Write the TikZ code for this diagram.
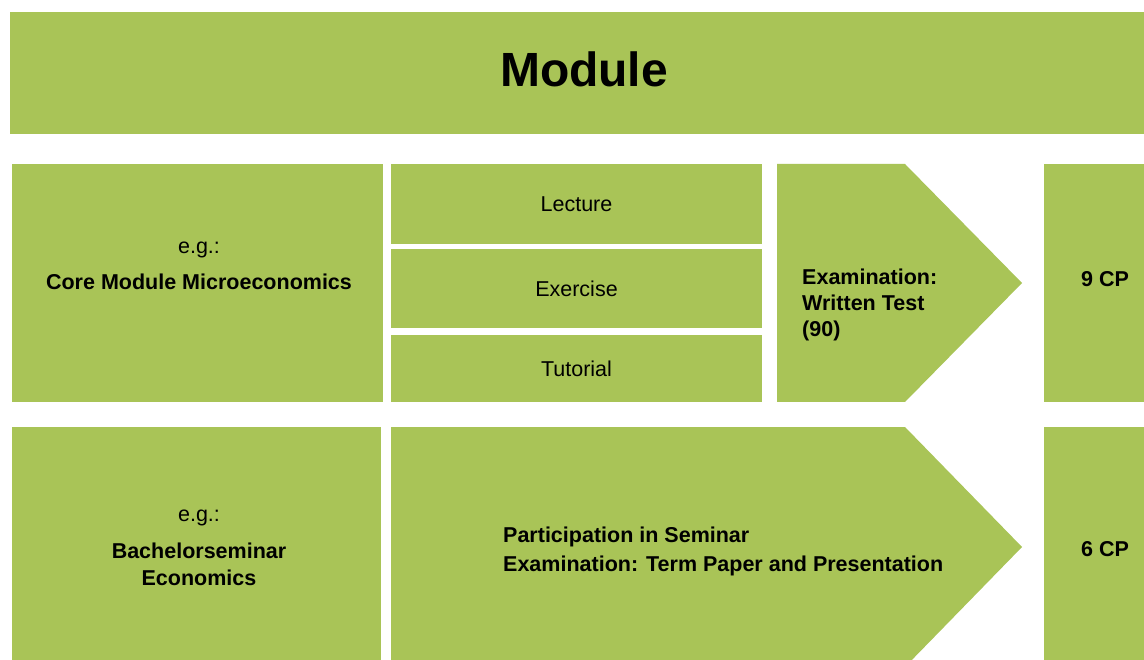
\documentclass[tikz,border=0pt]{standalone}
\usepackage{fontspec}
\setmainfont{Liberation Sans}
\usetikzlibrary{positioning}
\definecolor{modgreen}{HTML}{A9C457}

\begin{document}
\begin{tikzpicture}[
    x=1pt, y=-1pt,
    gbox/.style={fill=modgreen, inner sep=0, outer sep=0, anchor=north west},
    gtext/.style={font=\fontsize{21.5}{26}\selectfont, text=black, inner sep=0},
    btext/.style={gtext, font=\fontsize{21.5}{26}\selectfont\bfseries}
]
\useasboundingbox (0,0) rectangle (1144,660);
\clip (0,0) rectangle (1144,660);
\fill[white] (0,0) rectangle (1144,660);

% Module
\node[gbox, minimum width=1148, minimum height=122] (module) at (10,12) {};
\node[btext, font=\fontsize{48}{56}\selectfont\bfseries] (moduletext) at (584,69) {Module};

% Core module
\node[gbox, minimum width=371, minimum height=238] (core) at (12,164) {};
\node[gtext] (coreeg) at (199,250) {e.g.:};
\node[btext] (corename) at (199,282) {Core Module Microeconomics};

\node[gbox, gtext, minimum width=371, minimum height=80, right=8pt of core.north east, anchor=north west] (lecture) {Lecture};
\node[gbox, gtext, minimum width=371, minimum height=79, below=5pt of lecture.south west, anchor=north west] (exercise) {Exercise};
\node[gbox, gtext, minimum width=371, minimum height=67, below=7pt of exercise.south west, anchor=north west] (tutorial) {Tutorial};

\fill[modgreen] (777,164) -- (905,164) -- (1022,283) -- (905,402) -- (777,402) -- cycle;
\node[btext, anchor=west, align=left] (exam) at (802,305) {Examination:\\Written Test\\(90)};

\node[gbox, minimum width=116, minimum height=238] (cpone) at (1044,164) {};
\node[btext] (cponetext) at (1105,279) {9 CP};

% Bachelorseminar
\node[gbox, minimum width=369, minimum height=253, below=25pt of core.south west, anchor=north west] (bsem) {};
\node[gtext] (bsemeg) at (199,518) {e.g.:};
\node[btext, align=center, font=\fontsize{21.5}{27}\selectfont\bfseries] (bsemname) at (199,564) {Bachelorseminar\\Economics};

\fill[modgreen] (391,427) -- (905,427) -- (1022,547) -- (905,667) -- (391,667) -- cycle;
\node[btext, anchor=west, align=left, font=\fontsize{21.5}{29}\selectfont\bfseries] (seminar) at (503,551) {Participation in Seminar\\Examination: Term Paper and Presentation};

\node[gbox, minimum width=116, minimum height=253] (cptwo) at (1044,427) {};
\node[btext] (cptwotext) at (1105,549) {6 CP};

\end{tikzpicture}
\end{document}
